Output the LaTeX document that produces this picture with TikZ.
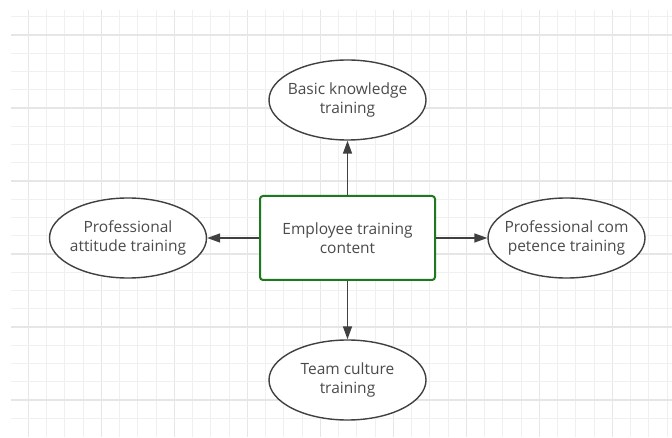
\documentclass[tikz,border=0pt]{standalone}
\usepackage{fontspec}
\setmainfont{Open Sans}
\usetikzlibrary{shapes.geometric,arrows.meta}
\definecolor{gridminor}{RGB}{240,240,240}
\definecolor{gridmajor}{RGB}{230,230,230}
\definecolor{edgegray}{RGB}{64,64,64}
\definecolor{textgray}{RGB}{75,75,75}
\definecolor{boxgreen}{RGB}{30,120,30}
\tikzset{
  % negative inner sep keeps every ellipse at its minimum size
  topic/.style={ellipse, draw=edgegray, line width=1.4pt, fill=white,
    minimum width=157pt, minimum height=80pt, inner xsep=-30pt, inner ysep=-15pt,
    align=center, text=textgray, font=\fontsize{15.5}{19.5}\selectfont},
  hub/.style={rectangle, rounded corners=3pt, draw=boxgreen, line width=2pt, fill=white,
    minimum width=175pt, minimum height=84pt, inner sep=0pt,
    align=center, text=textgray, font=\fontsize{15.5}{19.5}\selectfont},
  link/.style={draw=edgegray, line width=1.5pt,
    -{Triangle[length=13pt,width=9pt]}}
}
\begin{document}
\begin{tikzpicture}[x=1pt,y=-1pt]
\useasboundingbox (0,0) rectangle (672,438);
\fill[white] (0,0) rectangle (672,438);
% background grid
\foreach \k in {0,...,35}{
  \pgfmathsetmacro{\gx}{28.3+18.25*\k}
  \pgfmathtruncatemacro{\major}{mod(\k,4)==0}
  \ifnum\major=1
    \draw[gridmajor, line width=1.3pt] (\gx,10) -- (\gx,437);
  \else
    \draw[gridminor, line width=1.1pt] (\gx,10) -- (\gx,437);
  \fi
}
\foreach \k in {0,...,22}{
  \pgfmathsetmacro{\gy}{16.7+18.25*\k}
  \pgfmathtruncatemacro{\major}{mod(\k+3,4)==0}
  \ifnum\major=1
    \draw[gridmajor, line width=1.3pt] (11,\gy) -- (672,\gy);
  \else
    \draw[gridminor, line width=1.1pt] (11,\gy) -- (672,\gy);
  \fi
}
% nodes
\node[hub] (center) at (347.5,238) {Employee training\\content};
\node[topic] (top) at (347.5,100) {Basic knowledge\\training};
\node[topic] (left) at (128,238) {Professional\\attitude training};
\node[topic] (right) at (566.5,238) {Professional com\\petence training};
\node[topic] (bottom) at (347.5,380) {Team culture\\training};
% connectors
\draw[link] (center) -- (top);
\draw[link] (center) -- (left);
\draw[link] (center) -- (right);
\draw[link] (center) -- (bottom);
\end{tikzpicture}
\end{document}
